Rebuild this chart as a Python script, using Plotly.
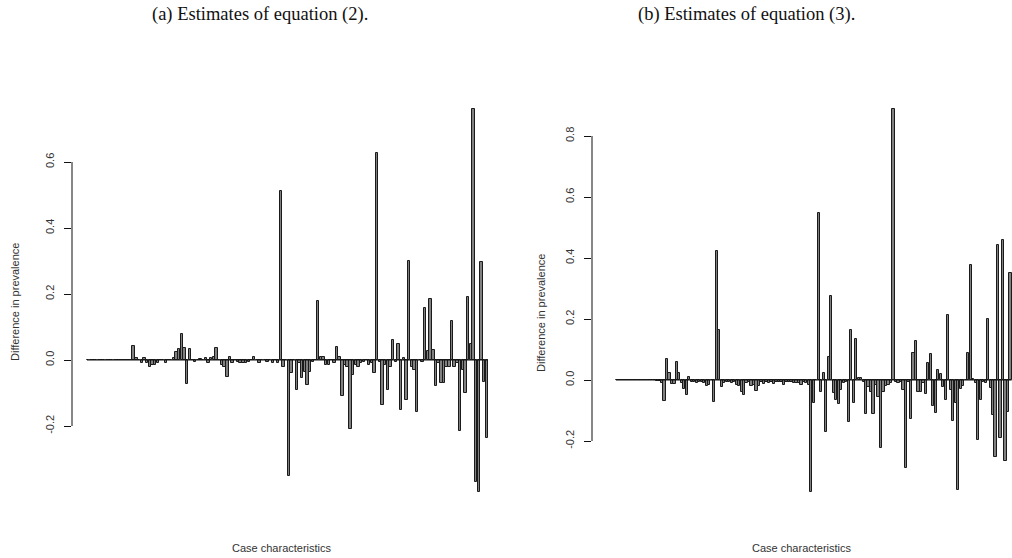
import plotly.graph_objects as go

# ---------------- data ----------------
panel_a_values = [
    0, 0, 0, 0, 0, 0, 0, 0, 0, 0, 0, 0, 0, 0, 0, 0, 0,
    0.043, 0.005, 0, -0.01, 0.005, -0.01, -0.02, -0.015, -0.015, -0.01,
    0, 0, -0.01, 0, 0, 0.005, 0.023, 0.033, 0.078, 0.037, -0.074, 0.032,
    0, -0.005, 0, 0.003, 0, 0.005, -0.01, 0.005, 0.01, 0.036, 0, -0.015,
    -0.02, -0.05, 0.008, -0.01, 0, -0.005, -0.01, -0.01, -0.01, -0.005,
    0, 0.01, 0, -0.01, 0, 0, -0.005, 0, -0.01, 0, -0.01,
    0.512, -0.02, 0, -0.35, -0.04, 0, -0.09, -0.01, -0.055, -0.035,
    -0.075, -0.035, -0.005, 0, 0.18, 0.008, 0.01, -0.015, -0.015, 0,
    -0.01, 0.04, 0.01, -0.11, -0.015, -0.02, -0.21, -0.045, -0.015, -0.02,
    -0.01, -0.005, 0, -0.015, -0.01, -0.04, 0.626, -0.005, -0.137, -0.015,
    -0.09, -0.02, 0.06, -0.005, 0.05, -0.15, 0.007, -0.12, 0.30, -0.02,
    -0.03, -0.157, 0, -0.005, 0.157, 0.028, 0.184, 0.03, -0.079, -0.01,
    -0.069, -0.069, -0.02, -0.02, 0.118, -0.02, -0.01, -0.215, -0.03, -0.099,
    0.19, 0.05, 0.762, -0.37, -0.40, 0.296, -0.066, -0.235,
]

panel_b_values = [
    0, 0, 0, 0, 0, 0, 0, 0, 0, 0, 0, 0, 0, 0, 0, 0,
    -0.002, -0.003, -0.01, -0.068, 0.07, 0.022, -0.012, -0.012, 0.058, 0.022,
    -0.01, -0.03, -0.048, 0.011, -0.005, -0.008, -0.01, -0.005, -0.005, -0.01,
    -0.02, -0.015, 0, -0.073, 0.424, 0.164, -0.024, -0.01, -0.005, -0.005,
    -0.01, -0.005, -0.015, -0.02, -0.04, -0.05, -0.01, -0.005, -0.02, -0.015,
    -0.035, -0.02, -0.008, -0.012, -0.005, -0.01, -0.008, -0.012, -0.005, -0.008,
    -0.005, -0.015, -0.005, -0.005, -0.008, -0.01, -0.01, -0.01, -0.015, -0.005,
    -0.01, -0.015, -0.366, -0.077, 0, 0.546, -0.04, 0.022, -0.17, 0.077,
    0.275, -0.044, -0.066, -0.08, -0.033, -0.01, -0.005, -0.139, 0.164, -0.074,
    0.134, 0.008, 0.005, -0.005, -0.113, -0.022, -0.04, -0.11, -0.015, -0.055,
    -0.224, -0.04, -0.02, -0.015, -0.01, 0.89, -0.005, -0.01, -0.005, -0.033,
    -0.29, -0.005, -0.128, 0.09, 0.128, -0.04, -0.04, -0.01, -0.047, 0.055,
    0.084, -0.085, -0.109, 0.033, 0.019, -0.022, -0.066, 0.213, -0.033, -0.135,
    -0.077, -0.36, -0.03, -0.02, 0, 0.087, 0.377, 0.003, -0.01, -0.197,
    -0.066, -0.005, -0.01, 0.199, -0.027, -0.116, -0.251, 0.443, -0.191, 0.459,
    -0.266, -0.104, 0.35,
]

ticks_a = [-0.2, 0.0, 0.2, 0.4, 0.6]
ticks_b = [-0.2, 0.0, 0.2, 0.4, 0.6, 0.8]
tick_labels_a = ["-0.2", "0.0", "0.2", "0.4", "0.6"]
tick_labels_b = ["-0.2", "0.0", "0.2", "0.4", "0.6", "0.8"]

title_a = "(a) Estimates of equation (2)."
title_b = "(b) Estimates of equation (3)."
y_title = "Difference in prevalence"
x_title = "Case characteristics"

# ---------------- layout geometry (pixels) ----------------
W, H = 1012, 558
BAR_W = 0.9
HALF = BAR_W / 2

plot_top, plot_bot = 93, 508

# panel a
a_axis_px, a_right_px = 72, 495
a_bar_left_px, a_bar_right_px = 87, 488
na = len(panel_a_values)
pa = (a_bar_right_px - a_bar_left_px) / (na - 1 + BAR_W)
a_xrange = [-HALF - (a_bar_left_px - a_axis_px) / pa,
            -HALF + (a_right_px - a_bar_left_px) / pa]
a_zero_px, a_scale = 360, 330
a_yrange = [(a_zero_px - plot_bot) / a_scale, (a_zero_px - plot_top) / a_scale]

# panel b
b_axis_px, b_right_px = 592, 1012
b_bar_left_px = 616
nb = len(panel_b_values)
pb = 2.49
b_xrange = [-HALF - (b_bar_left_px - b_axis_px) / pb,
            -HALF + (b_right_px - b_bar_left_px) / pb]
b_zero_px, b_scale = 380, 305
b_yrange = [(b_zero_px - plot_bot) / b_scale, (b_zero_px - plot_top) / b_scale]

ydom = [1 - plot_bot / H, 1 - plot_top / H]

fig = go.Figure()

bar_style = dict(marker=dict(color="#808080", line=dict(color="#1a1a1a", width=1)),
                 width=BAR_W, showlegend=False, hoverinfo="skip")
line_style = dict(mode="lines", line=dict(color="#111111", width=1),
                  showlegend=False, hoverinfo="skip")

# baselines (R draws zero-height bars as a line along 0)
fig.add_trace(go.Scatter(x=[-HALF, na - 1 + HALF], y=[0, 0], xaxis="x", yaxis="y", **line_style))
fig.add_trace(go.Scatter(x=[-HALF, nb - 1 + HALF], y=[0, 0], xaxis="x2", yaxis="y2", **line_style))

fig.add_trace(go.Bar(x=list(range(na)), y=panel_a_values, xaxis="x", yaxis="y", **bar_style))
fig.add_trace(go.Bar(x=list(range(nb)), y=panel_b_values, xaxis="x2", yaxis="y2", **bar_style))

tick_font = dict(family="Liberation Sans, Arial, sans-serif", size=11, color="#333333")
yaxis_common = dict(showgrid=False, zeroline=False, showline=False, ticks="outside",
                    ticklen=7, tickwidth=1, tickcolor="#111111", tickangle=-90,
                    tickfont=tick_font, ticklabelstandoff=6, fixedrange=True)

fig.update_layout(
    width=W, height=H,
    margin=dict(l=0, r=0, t=0, b=0),
    paper_bgcolor="white", plot_bgcolor="white",
    bargap=0,
    xaxis=dict(domain=[a_axis_px / W, a_right_px / W], range=a_xrange, visible=False,
               fixedrange=True),
    yaxis=dict(domain=ydom, range=a_yrange, tickvals=ticks_a, ticktext=tick_labels_a,
               anchor="x", **yaxis_common),
    xaxis2=dict(domain=[b_axis_px / W, b_right_px / W], range=b_xrange, visible=False,
                anchor="y2", fixedrange=True),
    yaxis2=dict(domain=ydom, range=b_yrange, tickvals=ticks_b, ticktext=tick_labels_b,
                anchor="x2", **yaxis_common),
)

# R-style axis lines spanning only the tick range
fig.add_shape(type="line", xref="x domain", yref="y", x0=0, x1=0,
              y0=min(ticks_a), y1=max(ticks_a), line=dict(color="#111111", width=1))
fig.add_shape(type="line", xref="x2 domain", yref="y2", x0=0, x1=0,
              y0=min(ticks_b), y1=max(ticks_b), line=dict(color="#111111", width=1))

serif = dict(family="Liberation Serif, Times New Roman, serif", size=18.5, color="#111111")
sans = dict(family="Liberation Sans, Arial, sans-serif", size=11, color="#333333")

annots = [
    dict(text=title_a, x=260 / W, y=1 - 15 / H, font=serif),
    dict(text=title_b, x=746 / W, y=1 - 15 / H, font=serif),
    dict(text=y_title, x=15 / W, y=1 - 302 / H, font=sans, textangle=-90),
    dict(text=y_title, x=541 / W, y=1 - 313 / H, font=sans, textangle=-90),
    dict(text=x_title, x=282 / W, y=1 - 548 / H, font=sans),
    dict(text=x_title, x=802 / W, y=1 - 548 / H, font=sans),
]
for a in annots:
    fig.add_annotation(xref="paper", yref="paper", xanchor="center", yanchor="middle",
                       showarrow=False, **a)

fig.write_html("out.html")
